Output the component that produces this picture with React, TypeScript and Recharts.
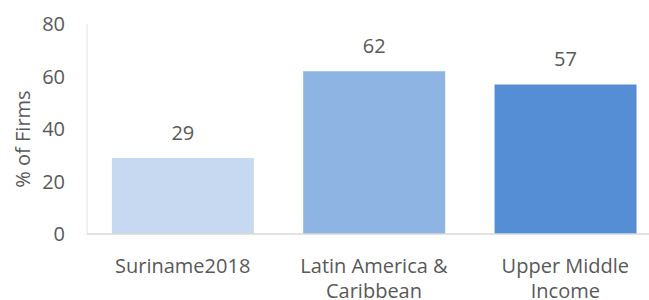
import { BarChart, Bar, XAxis, YAxis, Cell, LabelList, Text } from 'recharts';

// ---- data ----
const categories = ['Suriname2018', 'Latin America & Caribbean', 'Upper Middle Income'];
const firmShares = [29, 62, 57];
const barColors = ['#c6d9f1', '#8db4e2', '#558ed5'];
const yTicks = [0, 20, 40, 60, 80];

const chartData = categories.map((name, i) => ({ name, value: firmShares[i] }));

const FONT = '"Open Sans", sans-serif';
const TEXT_COLOR = '#595959';
const FONT_SIZE = 20;

function CategoryTick({ x, y, payload }: { x?: number; y?: number; payload?: { value: string } }) {
  return (
    <Text
      x={x}
      y={y}
      width={140}
      textAnchor="middle"
      verticalAnchor="start"
      lineHeight={25}
      style={{ fontSize: FONT_SIZE, fontFamily: FONT }}
      fontSize={FONT_SIZE}
      fontFamily={FONT}
      fill={TEXT_COLOR}
    >
      {payload?.value ?? ''}
    </Text>
  );
}

export default function App() {
  return (
    <div>
      <style>{'body{margin:0}'}</style>
      <BarChart
        width={649}
        height={300}
        data={chartData}
        margin={{ top: 24, right: -12, bottom: 36, left: 0 }}
        barCategoryGap="13%"
      >
        <XAxis
          dataKey="name"
          height={30}
          axisLine={{ stroke: '#d9d9d9', strokeWidth: 1.5 }}
          tickLine={false}
          tickSize={0}
          tickMargin={25}
          interval={0}
          tick={<CategoryTick />}
        />
        <YAxis
          domain={[0, 80]}
          ticks={yTicks}
          width={87}
          axisLine={{ stroke: '#dbe5f1' }}
          tickLine={false}
          tickSize={0}
          tickMargin={22}
          tick={{ fontSize: FONT_SIZE, fontFamily: FONT, fill: TEXT_COLOR }}
          label={{
            value: '% of Firms',
            angle: -90,
            position: 'center',
            dx: -21,
            dy: 10,
            style: { fontSize: FONT_SIZE, fontFamily: FONT, fill: TEXT_COLOR, textAnchor: 'middle' },
          }}
        />
        <Bar dataKey="value" isAnimationActive={false}>
          {chartData.map((d, i) => (
            <Cell key={d.name} fill={barColors[i]} />
          ))}
          <LabelList
            dataKey="value"
            position="top"
            offset={18}
            style={{ fontSize: FONT_SIZE, fontFamily: FONT, fill: TEXT_COLOR }}
          />
        </Bar>
      </BarChart>
    </div>
  );
}
